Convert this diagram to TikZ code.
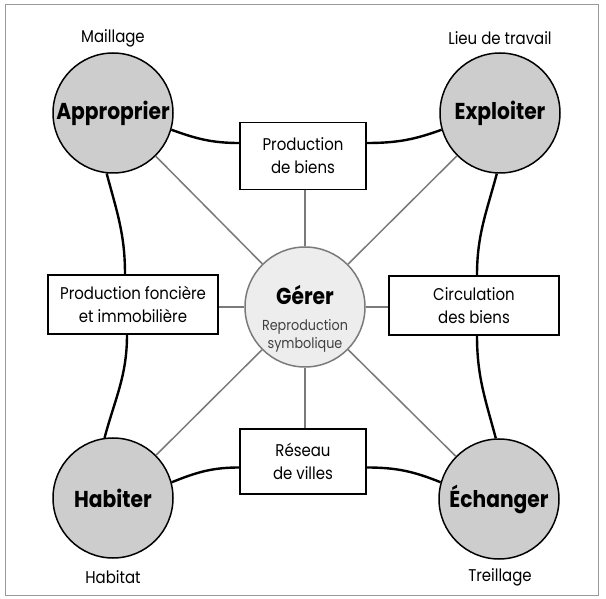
\documentclass[tikz,border=0pt]{standalone}
\usepackage{fontspec}
\setmainfont{Poppins}[FakeStretch=0.88]
\begin{document}
\begin{tikzpicture}[x=1pt,y=1pt,
  bigcircle/.style={circle, draw=black, line width=1.5pt, fill=circgray, minimum size=120pt, inner sep=0pt, font=\fontsize{23}{26}\selectfont\bfseries},
  centercircle/.style={circle, draw=linegray, line width=1.5pt, fill=centergray, minimum size=120pt, inner sep=0pt},
  box/.style={draw=black, line width=1.4pt, fill=white, align=center, inner sep=0pt, font=\fontsize{17}{23}\selectfont},
  toplabel/.style={font=\fontsize{17}{20}\selectfont},
  thickline/.style={line width=2.4pt, black},
  thinline/.style={line width=1.5pt, linegray}
]
\definecolor{circgray}{HTML}{CDCDCD}
\definecolor{centergray}{HTML}{EDEDED}
\definecolor{linegray}{HTML}{7A7A7A}
\definecolor{framegray}{HTML}{9A9A9A}
\useasboundingbox (0,0) rectangle (606,598);
\draw[framegray, line width=1pt] (5,3) rectangle (598,593);

% circles
\node[bigcircle] (ap) at (113,485) {\raisebox{5pt}{Approprier}};
\node[bigcircle] (ex) at (500,485) {\raisebox{5pt}{Exploiter}};
\node[bigcircle] (ha) at (113,100) {Habiter};
\node[bigcircle] (ec) at (499,99) {Échanger};
\node[centercircle] (g) at (305,291) {};
\node[align=center, inner sep=0pt, font=\fontsize{14.5}{18}\selectfont, text=black!75] (gt) at (305,279)
  {{\fontsize{23}{26}\selectfont\bfseries\color{black}Gérer}\\[8pt]Reproduction\\symbolique};

% boxes
\node[box, minimum width=126pt, minimum height=67pt] (pb) at (303,442) {Production\\de biens};
\node[box, minimum width=170pt, minimum height=59pt] (pf) at (133,293.5) {Production foncière\\et immobilière};
\node[box, minimum width=170pt, minimum height=59pt] (pc) at (474,292.5) {Circulation\\des biens};
\node[box, minimum width=126pt, minimum height=65pt] (pr) at (303,136.5) {Réseau\\de villes};

% labels
\node[toplabel] (l1) at (113,560) {Maillage};
\node[toplabel] (l2) at (500,560) {Lieu de travail};
\node[toplabel] (l3) at (113,21) {Habitat};
\node[toplabel] (l4) at (500,21) {Treillage};

% thin gray lines
\draw[thinline] (g) -- (ap);
\draw[thinline] (g) -- (ex);
\draw[thinline] (g) -- (ha);
\draw[thinline] (g) -- (ec);
\draw[thinline] (g) -- (g |- pb.south);
\draw[thinline] (g) -- (g |- pr.north);
\draw[thinline] (g) -- (g -| pf.east);
\draw[thinline] (g) -- (g -| pc.west);

% thick curved connectors
\draw[thickline] (ap.-16) to[out=-20,in=180] ([yshift=13pt]pb.west);
\draw[thickline] (ex.196) to[out=200,in=0] ([yshift=13pt]pb.east);
\draw[thickline] (ap.-96) to[out=-75,in=90] ([xshift=-8pt]pf.north);
\draw[thickline] (ha.98) to[out=75,in=-90] ([xshift=-6pt]pf.south);
\draw[thickline] (ex.-93) to[out=-105,in=90] ([xshift=3pt]pc.north);
\draw[thickline] (ec.93) to[out=105,in=-90] ([xshift=3pt]pc.south);
\draw[thickline] (ha.15) to[out=22,in=180] ([yshift=-6pt]pr.west);
\draw[thickline] (ec.164) to[out=158,in=0] ([yshift=-6pt]pr.east);
\end{tikzpicture}
\end{document}
